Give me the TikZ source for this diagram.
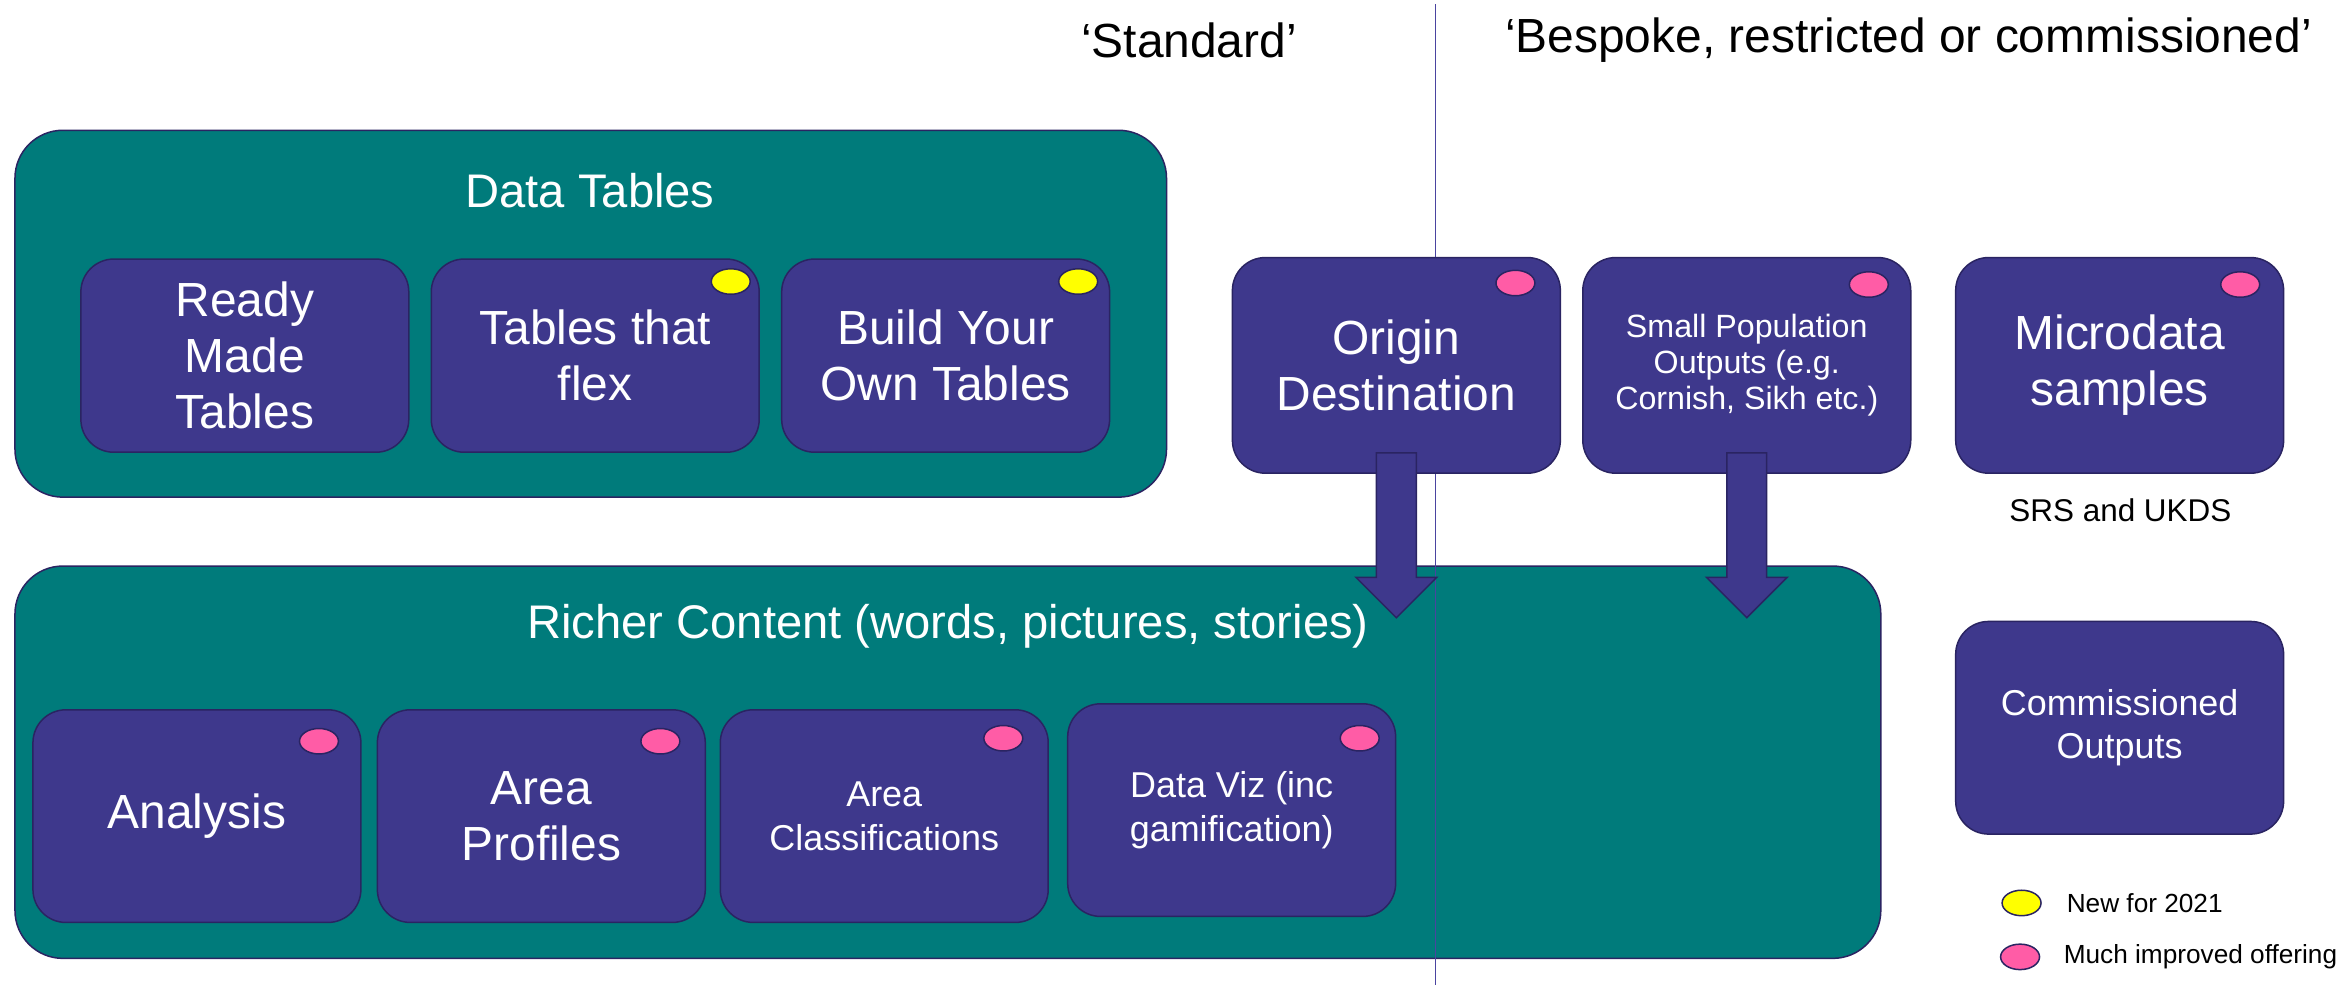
\documentclass[tikz,border=0pt]{standalone}
\usepackage{fontspec}
\setmainfont{Liberation Sans}
\usetikzlibrary{shapes.geometric,calc}
\definecolor{tealbg}{HTML}{007B7B}
\definecolor{boxpurple}{HTML}{3E388C}
\definecolor{edgenavy}{HTML}{2A2462}
\definecolor{pinkdot}{HTML}{FF5CA6}
\definecolor{yellowdot}{HTML}{FFFF00}
\definecolor{divline}{HTML}{4A44A0}
\tikzset{
  groupbox/.style={draw=edgenavy, line width=1pt, fill=tealbg, rounded corners=32pt, inner sep=0pt},
  itembox/.style={draw=edgenavy, line width=1pt, fill=boxpurple, rounded corners=22pt, text=white, align=center, inner sep=0pt, minimum width=219pt},
  bigtxt/.style={font=\fontsize{32}{37.5}\selectfont},
  midtxt/.style={font=\fontsize{24}{29}\selectfont},
  smalltxt/.style={font=\fontsize{21.5}{24}\selectfont},
  titletxt/.style={text=white, inner sep=0pt, font=\fontsize{31.5}{36}\selectfont},
  headtxt/.style={text=black, inner sep=0pt, font=\fontsize{32}{36}\selectfont},
  dotmark/.style={ellipse, draw=edgenavy, line width=1pt, minimum width=26pt, minimum height=17pt, inner sep=0pt},
  legtxt/.style={text=black, inner sep=0pt, anchor=west, font=\fontsize{17.5}{20}\selectfont},
  fatarrow/.style={draw=edgenavy, line width=1pt, fill=boxpurple},
  divider/.style={draw=divline, line width=0.7pt}
}
\newcommand{\fatdown}[2]{%
  \draw[fatarrow] let \p1=(#1.south), \p2=(#2.north) in
    (\x1-13.3pt,\y1+14pt) -- (\x1+13.3pt,\y1+14pt) -- (\x1+13.3pt,\y2-8pt)
    -- (\x1+27pt,\y2-8pt) -- (\x1,\y2-35pt) -- (\x1-27pt,\y2-8pt)
    -- (\x1-13.3pt,\y2-8pt) -- cycle;}
\begin{document}
\begin{tikzpicture}[x=1pt,y=-1pt]
\useasboundingbox[fill=white] (0,0) rectangle (1568,657.8);

% group containers
\node[groupbox, minimum width=769pt, minimum height=245pt] (datatables) at (394.5,209.5) {};
\node[groupbox, minimum width=1246pt, minimum height=262pt] (richer) at (633,509) {};
\node[titletxt] (dttitle) at (394,127) {Data Tables};
\node[titletxt] (rctitle) at (633,418) {Richer Content (words, pictures, stories)};

% divider line
\coordinate (ltop) at (958.5,3);
\coordinate (lbot) at (958.5,658);
\draw[divider] (ltop) -- (lbot);

% headers
\node[headtxt] (stdhead) at (794,27) {‘Standard’};
\node[headtxt] (besphead) at (1274.5,27) {‘Bespoke, restricted or commissioned’};

% data table items
\node[itembox, bigtxt, minimum height=129pt] (ready) at (163.5,237.5) {Ready\\Made\\Tables};
\node[itembox, bigtxt, minimum height=129pt] (flex) at (397.5,237.5) {Tables that\\flex};
\node[itembox, bigtxt, minimum height=129pt] (build) at (631.5,237.5) {Build Your\\Own Tables};

% standard / bespoke items
\node[itembox, bigtxt, minimum height=144pt] (origin) at (932.5,244) {Origin\\Destination};
\node[itembox, smalltxt, minimum height=144pt] (smallpop) at (1166.5,244) {Small Population\\Outputs (e.g.\\Cornish, Sikh etc.)};
\node[itembox, bigtxt, minimum height=144pt] (micro) at (1415.5,244) {Microdata\\samples};
\node[itembox, midtxt, minimum height=142pt] (commissioned) at (1415.5,486) {Commissioned\\Outputs};
\node[text=black, inner sep=0pt, font=\fontsize{21}{24}\selectfont] (srs) at (1416,341) {SRS and UKDS};

% richer content items
\node[itembox, bigtxt, minimum height=142pt] (analysis) at (131.5,545) {Analysis};
\node[itembox, bigtxt, minimum height=142pt] (profiles) at (361.5,545) {Area\\Profiles};
\node[itembox, midtxt, minimum height=142pt] (classif) at (590.5,545) {Area\\Classifications};
\node[itembox, midtxt, minimum height=142pt] (dataviz) at (822.5,541) {Data Viz (inc\\gamification)};

% markers
\node[dotmark, fill=yellowdot] (mflex) at (488,188) {};
\node[dotmark, fill=yellowdot] (mbuild) at (720,188) {};
\node[dotmark, fill=pinkdot] (morigin) at (1012,189) {};
\node[dotmark, fill=pinkdot] (msmall) at (1248,190) {};
\node[dotmark, fill=pinkdot] (mmicro) at (1496,190) {};
\node[dotmark, fill=pinkdot] (manalysis) at (213,495) {};
\node[dotmark, fill=pinkdot] (mprofiles) at (441,495) {};
\node[dotmark, fill=pinkdot] (mclassif) at (670,493) {};
\node[dotmark, fill=pinkdot] (mdataviz) at (908,493) {};

% arrows
\fatdown{origin}{richer}
\fatdown{smallpop}{richer}

% legend
\node[dotmark, fill=yellowdot] (legnew) at (1350,603) {};
\node[legtxt] (legnewtxt) at (1380,603) {New for 2021};
\node[dotmark, fill=pinkdot] (legimp) at (1349,639) {};
\node[legtxt] (legimptxt) at (1378,639) {Much improved offering};
\end{tikzpicture}
\end{document}
